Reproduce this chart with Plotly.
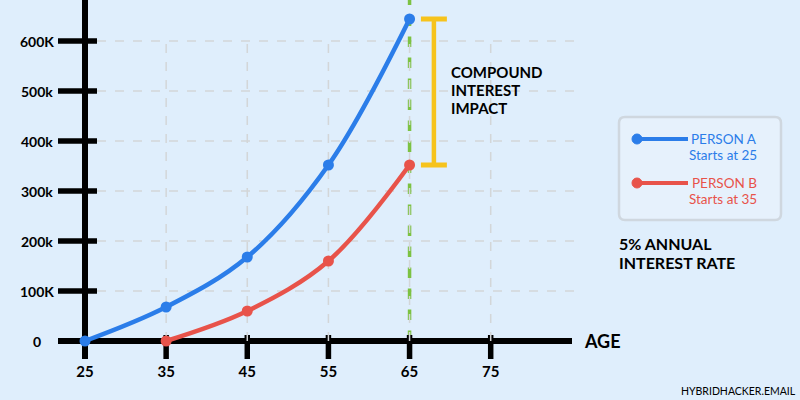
import plotly.graph_objects as go

# ---- data ----
ages_a = [25, 35, 45, 55, 65]
values_a = [0, 68000, 168000, 352000, 644000]
ages_b = [35, 45, 55, 65]
values_b = [0, 60000, 160000, 352000]
x_ticks = [25, 35, 45, 55, 65, 75]
y_ticks = [0, 100000, 200000, 300000, 400000, 500000, 600000]
y_tick_labels = ["0", "100K", "200k", "300k", "400k", "500k", "600K"]
retire_age = 65

# ---- styling ----
W, H = 800, 400
BG = "#dfeefc"
BLUE = "#2b7de9"
RED = "#e8534a"
GREEN = "#7cc242"
GOLD = "#f6c31c"
GRID = "#d3d6d8"
FONT = "Lato"

K = 8.114              # px per year
X_AT_25 = 85           # pixel of age 25
x0 = 25 - X_AT_25 / K
x_range = [x0, x0 + W / K]
Y_PER_PX = 2000
Y_ZERO_PX = 341
y_range = [-(H - Y_ZERO_PX) * Y_PER_PX, Y_ZERO_PX * Y_PER_PX]


def px(x):
    return x / W


def py(y):
    return 1 - y / H


fig = go.Figure()

fig.add_trace(go.Scatter(
    x=ages_a, y=values_a, mode="lines+markers", name="Person A",
    line=dict(color=BLUE, width=4.5, shape="spline", smoothing=1.0),
    marker=dict(color=BLUE, size=11), cliponaxis=False, hoverinfo="skip"))
fig.add_trace(go.Scatter(
    x=ages_b, y=values_b, mode="lines+markers", name="Person B",
    line=dict(color=RED, width=4.5, shape="spline", smoothing=1.0),
    marker=dict(color=RED, size=11), cliponaxis=False, hoverinfo="skip"))

shapes = []
# grid lines
for v in y_ticks[1:]:
    shapes.append(dict(type="line", xref="paper", yref="y", x0=px(97), x1=px(575), y0=v, y1=v,
                       line=dict(color=GRID, width=1.5, dash="dash"), layer="below"))
for a in x_ticks[1:]:
    shapes.append(dict(type="line", xref="x", yref="y", x0=a, x1=a, y0=0, y1=y_ticks[-1],
                       line=dict(color=GRID, width=1.5, dash="dash"), layer="below"))
# retirement line
shapes.append(dict(type="line", xref="x", yref="paper", x0=retire_age, x1=retire_age,
                   y0=py(Y_ZERO_PX), y1=1, line=dict(color=GREEN, width=3.5, dash="dash"),
                   layer="below"))
# axes
shapes.append(dict(type="line", xref="x", yref="paper", x0=x_ticks[0], x1=x_ticks[0],
                   y0=py(359), y1=1, line=dict(color="black", width=6), layer="below"))
shapes.append(dict(type="line", xref="paper", yref="y", x0=px(58), x1=px(572), y0=0, y1=0,
                   line=dict(color="black", width=6), layer="below"))
for v in y_ticks[1:]:
    shapes.append(dict(type="line", xref="paper", yref="y", x0=px(58), x1=px(97), y0=v, y1=v,
                       line=dict(color="black", width=5.5), layer="below"))
for a in x_ticks:
    shapes.append(dict(type="line", xref="x", yref="paper", x0=a, x1=a, y0=py(359), y1=py(335),
                       line=dict(color="black", width=5.5), layer="below"))
# impact bar
bar_x = retire_age + 3
cap = 1.6
shapes.append(dict(type="line", xref="x", yref="y", x0=bar_x, x1=bar_x,
                   y0=values_b[-1], y1=values_a[-1], line=dict(color=GOLD, width=4.5)))
for v in (values_b[-1], values_a[-1]):
    shapes.append(dict(type="line", xref="x", yref="y", x0=bar_x - cap, x1=bar_x + cap,
                       y0=v, y1=v, line=dict(color=GOLD, width=5)))

# legend box (rounded)
bx0, bx1, by0, by1, r = 619, 781, 117, 220, 6
def P(x, y):
    return f"{px(x):.5f},{py(y):.5f}"
path = (f"M {P(bx0 + r, by0)} L {P(bx1 - r, by0)} Q {P(bx1, by0)} {P(bx1, by0 + r)} "
        f"L {P(bx1, by1 - r)} Q {P(bx1, by1)} {P(bx1 - r, by1)} "
        f"L {P(bx0 + r, by1)} Q {P(bx0, by1)} {P(bx0, by1 - r)} "
        f"L {P(bx0, by0 + r)} Q {P(bx0, by0)} {P(bx0 + r, by0)} Z")
shapes.append(dict(type="path", xref="paper", yref="paper", path=path,
                   line=dict(color="#cfd7df", width=2.5), fillcolor="#e6f1fc"))
for yy, col in ((139, BLUE), (183, RED)):
    shapes.append(dict(type="line", xref="paper", yref="paper", x0=px(637), x1=px(688),
                       y0=py(yy), y1=py(yy), line=dict(color=col, width=4)))
    shapes.append(dict(type="circle", xref="paper", yref="paper", x0=px(632), x1=px(642),
                       y0=py(yy - 5), y1=py(yy + 5), line=dict(color=col, width=1),
                       fillcolor=col))

annotations = []
def txt(text, x, y, size, color="black", anchor="left", weight="bold"):
    annotations.append(dict(text=text, xref="paper", yref="paper", x=px(x), y=py(y),
                            xanchor=anchor, yanchor="middle", showarrow=False,
                            font=dict(family=FONT, size=size, color=color, weight=weight)))

# y tick labels, placed on the y scale
for v, lab in zip(y_ticks, y_tick_labels):
    annotations.append(dict(text=lab, xref="paper", yref="y", x=px(37), y=v,
                            xanchor="center", yanchor="middle", showarrow=False,
                            font=dict(family=FONT, size=14, color="black", weight="bold")))

for i, line in enumerate(["COMPOUND", "INTEREST", "IMPACT"]):
    txt(line, 449, 72 + 18 * i, 15)
txt("PERSON A", 759, 139, 13.5, BLUE, "right", "normal")
txt("Starts at 25", 759, 155, 13.5, BLUE, "right", "normal")
txt("PERSON B", 759, 183, 13.5, RED, "right", "normal")
txt("Starts at 35", 759, 199, 13.5, RED, "right", "normal")
txt("5% ANNUAL", 617, 243, 16)
txt("INTEREST RATE", 617, 262, 16)
txt("AGE", 582, 341, 18)
txt("HYBRIDHACKER.EMAIL", 798, 391, 10.5, "black", "right", "normal")

fig.update_layout(
    width=W, height=H, margin=dict(l=0, r=0, t=0, b=0, autoexpand=False),
    paper_bgcolor=BG, plot_bgcolor=BG, showlegend=False,
    shapes=shapes, annotations=annotations,
    xaxis=dict(range=x_range, domain=[0, 1], anchor="free", position=(H - 361) / H,
               automargin=False,
               tickvals=x_ticks, ticktext=[str(a) for a in x_ticks], ticks="",
               showgrid=False, zeroline=False, showline=False,
               tickfont=dict(family=FONT, size=15, color="black", weight="bold")),
    yaxis=dict(range=y_range, domain=[0, 1], automargin=False,
               tickvals=y_ticks, showticklabels=False, ticks="",
               showgrid=False, zeroline=False, showline=False),
)

fig.write_html("out.html", config={"displayModeBar": False},
               post_script="document.body.style.margin='0';document.body.style.overflow='hidden';document.body.style.background='" + BG + "';")
